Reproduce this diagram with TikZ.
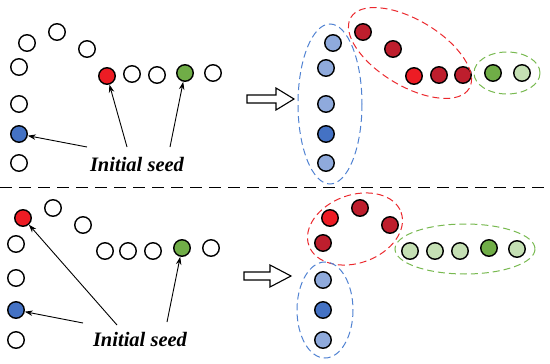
\documentclass[tikz,border=0pt]{standalone}
\usepackage{fontspec}
\setmainfont{Liberation Serif}
\usetikzlibrary{arrows.meta}

\definecolor{seedred}{RGB}{237,28,36}
\definecolor{darkred}{RGB}{190,30,45}
\definecolor{lightblue}{RGB}{143,170,220}
\definecolor{seedblue}{RGB}{68,114,196}
\definecolor{seedgreen}{RGB}{112,173,71}
\definecolor{lightgreen}{RGB}{197,224,180}
\definecolor{ringblue}{RGB}{80,130,210}
\definecolor{ringred}{RGB}{235,40,45}
\definecolor{ringgreen}{RGB}{120,185,80}

\begin{document}
\begin{tikzpicture}[x=1pt, y=-1pt, >={Stealth[length=8pt,width=5.5pt]},
    cell/.style={circle, draw, line width=1.4pt, minimum size=16.5pt, inner sep=0pt},
    seedtext/.style={font=\bfseries\itshape\fontsize{20.5}{24}\selectfont},
    group/.style={dash pattern=on 7pt off 4pt, line width=1pt},
    hollow/.style={draw, line width=1.1pt, fill=white}]

    \useasboundingbox (0,0) rectangle (550,364);

    % upper half: seeds before growing
    \foreach \x/\y [count=\i] in {27/43, 57/32, 87/49, 19/67, 132/74, 157/75, 213/73, 19/104, 19/163}
    \node[cell] (u\i) at (\x,\y) {};
    \node[cell, fill=seedred] (ured) at (107,76) {};
    \node[cell, fill=seedgreen] (ugreen) at (185,73) {};
    \node[cell, fill=seedblue] (ublue) at (19,134) {};
    \node[seedtext] (utext) at (137,164) {Initial seed};

    \coordinate (us1) at (87,147);
    \coordinate (us2) at (127,147);
    \coordinate (us3) at (170,147);
    \draw[->, line width=0.9pt] (us1) -- (ublue);
    \draw[->, line width=0.9pt] (us2) -- (ured);
    \draw[->, line width=0.9pt] (us3) -- (ugreen);

    % hollow arrow
    \path[hollow] (247,95) -- (276,95) -- (276,88) -- (294,99) -- (276,110) -- (276,103) -- (247,103) -- cycle;

    % upper half: grown regions
    \foreach \x/\y/\c [count=\i] in {333/43/lightblue, 326/68/lightblue, 326/104/lightblue, 326/134/seedblue, 326/163/lightblue,
        363/32/darkred, 393/49/darkred, 414/76/seedred, 439/75/darkred, 463/75/darkred,
        493/73/seedgreen, 522/73/lightgreen}
    \node[cell, fill=\c] (ur\i) at (\x,\y) {};
    \draw[group, ringblue] (330,104) ellipse (32 and 80);
    \draw[group, ringred, rotate around={-31:(410,53)}] (410,53) ellipse (69 and 33);
    \draw[group, ringgreen] (507,73) ellipse (33 and 21);

    % separator
    \draw[dash pattern=on 12pt off 7pt, line width=1pt] (0,187) -- (550,187);

    % lower half: seeds before growing
    \foreach \x/\y [count=\i] in {53/208, 83/225, 16/244, 105/251, 128/251, 153/251, 211/248, 16/278, 16/340}
    \node[cell] (l\i) at (\x,\y) {};
    \node[cell, fill=seedred] (lred) at (23,218) {};
    \node[cell, fill=seedgreen] (lgreen) at (182,248) {};
    \node[cell, fill=seedblue] (lblue) at (16,310) {};
    \node[seedtext] (ltext) at (140,339) {Initial seed};

    \coordinate (ls1) at (83,323);
    \coordinate (ls2) at (117,325);
    \coordinate (ls3) at (167,322);
    \draw[->, line width=0.9pt] (ls1) -- (lblue);
    \draw[->, line width=0.9pt] (ls2) -- (lred);
    \draw[->, line width=0.9pt] (ls3) -- (lgreen);

    \path[hollow] (244,272) -- (270,272) -- (270,265) -- (291,276) -- (270,287) -- (270,280) -- (244,280) -- cycle;

    % lower half: grown regions
    \foreach \x/\y/\c [count=\i] in {330/218/seedred, 360/208/darkred, 390/225/darkred, 323/243/darkred,
        410/251/lightgreen, 435/251/lightgreen, 460/251/lightgreen, 489/248/seedgreen, 517/249/lightgreen,
        323/280/lightblue, 323/310/seedblue, 323/340/lightblue}
    \node[cell, fill=\c] (lr\i) at (\x,\y) {};
    \draw[group, ringred, rotate around={20:(355,229)}] (355,229) ellipse (49 and 34);
    \draw[group, ringgreen] (465,249) ellipse (70 and 25);
    \draw[group, ringblue] (325,310) ellipse (28 and 48);

\end{tikzpicture}
\end{document}
